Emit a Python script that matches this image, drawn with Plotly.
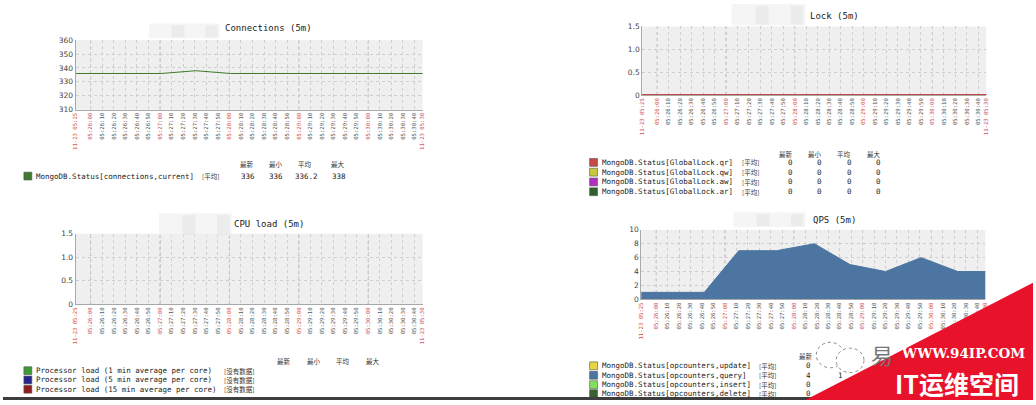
import plotly.graph_objects as go

W, H = 1036, 405
DAY = "2016-11-23 "
MONO = "DejaVu Sans Mono, Noto Sans CJK SC, monospace"
CJK = "Noto Sans CJK SC"
SANS = "DejaVu Sans"

# ---------------- data ----------------
range_start, range_end = "05:25:47", "05:30:47"
tick_times = ["05:25:47", "05:26:00", "05:26:10", "05:26:20", "05:26:30", "05:26:40", "05:26:50",
              "05:27:00", "05:27:10", "05:27:20", "05:27:30", "05:27:40", "05:27:50",
              "05:28:00", "05:28:10", "05:28:20", "05:28:30", "05:28:40", "05:28:50",
              "05:29:00", "05:29:10", "05:29:20", "05:29:30", "05:29:40", "05:29:50",
              "05:30:00", "05:30:10", "05:30:20", "05:30:30", "05:30:40", "05:30:47"]
tick_labels = ["11-23 05:25", "05:26:00", "05:26:10", "05:26:20", "05:26:30", "05:26:40", "05:26:50",
               "05:27:00", "05:27:10", "05:27:20", "05:27:30", "05:27:40", "05:27:50",
               "05:28:00", "05:28:10", "05:28:20", "05:28:30", "05:28:40", "05:28:50",
               "05:29:00", "05:29:10", "05:29:20", "05:29:30", "05:29:40", "05:29:50",
               "05:30:00", "05:30:10", "05:30:20", "05:30:30", "05:30:40", "11-23 05:30"]
red_labels = ["11-23 05:25", "05:26:00", "05:27:00", "05:28:00", "05:29:00", "05:30:00", "11-23 05:30"]
minute_ticks = ["05:26:00", "05:27:00", "05:28:00", "05:29:00", "05:30:00"]

conn_times = ["05:25:31", "05:26:01", "05:26:31", "05:27:01", "05:27:31", "05:28:01",
              "05:28:31", "05:29:01", "05:29:31", "05:30:01", "05:30:31", "05:31:01"]
conn_vals = [336, 336, 336, 336, 338, 336, 336, 336, 336, 336, 336, 336]

lock_times = conn_times
lock_qr = [0] * 12
lock_qw = [0] * 12
lock_aw = [0] * 12
lock_ar = [0] * 12

qps_times = ["05:25:40", "05:26:11", "05:26:42", "05:27:12", "05:27:45", "05:28:18",
             "05:28:49", "05:29:20", "05:29:51", "05:30:23", "05:30:54"]
qps_query = [1, 1, 1, 7, 7, 8, 5, 4, 6, 4, 4]
qps_update = [0] * 11
qps_insert = [0] * 11
qps_delete = [0] * 11

stat_headers = ["最新", "最小", "平均", "最大"]
conn_legend = [("MongoDB.Status[connections,current]", "#3f7a2e", "[平均]", ["336", "336", "336.2", "338"])]
lock_legend = [("MongoDB.Status[GlobalLock.qr]", "#c84848", "[平均]", ["0", "0", "0", "0"]),
               ("MongoDB.Status[GlobalLock.qw]", "#c8c83c", "[平均]", ["0", "0", "0", "0"]),
               ("MongoDB.Status[GlobalLock.aw]", "#b02ec0", "[平均]", ["0", "0", "0", "0"]),
               ("MongoDB.Status[GlobalLock.ar]", "#2f5f2f", "[平均]", ["0", "0", "0", "0"])]
cpu_legend = [("Processor load (1 min average per core)", "#3f9a35", "[没有数据]", []),
              ("Processor load (5 min average per core)", "#25258c", "[没有数据]", []),
              ("Processor load (15 min average per core)", "#8c1f1f", "[没有数据]", [])]
qps_legend = [("MongoDB.Status[opcounters,update]", "#e6d640", "[平均]", ["0"]),
              ("MongoDB.Status[opcounters,query]", "#4c75a1", "[平均]", ["4", "1"]),
              ("MongoDB.Status[opcounters,insert]", "#86e060", "[平均]", ["0"]),
              ("MongoDB.Status[opcounters,delete]", "#3a5f30", "[平均]", ["0"])]

# ---------------- helpers ----------------
def px(x):
    return x / W


def py(y):
    return 1 - y / H


annotations = []
shapes = []


def text(x, y, s, size=7.5, color="#222", anchor="left", family=MONO):
    annotations.append(dict(x=px(x), y=py(y), xref="paper", yref="paper", text=s, showarrow=False,
                            xanchor=anchor, yanchor="middle", borderpad=0,
                            font=dict(size=size, color=color, family=family)))


def rect(x0, y0, x1, y1, fill, line="rgba(0,0,0,0)", lw=0, layer="above"):
    shapes.append(dict(type="rect", xref="paper", yref="paper", x0=px(x0), x1=px(x1), y0=py(y1), y1=py(y0),
                       fillcolor=fill, line=dict(color=line, width=lw), layer=layer))


def dt(t):
    return DAY + t


ticktext = [f'<span style="color:#d25555">{l}</span>' if l in red_labels else l for l in tick_labels]

fig = go.Figure()

panels = [
    # key, x px, y px, yrange, yticks, ylabels
    ("", (73, 422), (37, 108), [310, 360], [310, 320, 330, 340, 350, 360], ["310", "320", "330", "340", "350", "360"]),
    ("2", (643, 989), (23, 93), [0, 1.5], [0, 0.5, 1.0, 1.5], ["0", "0.5", "1.0", "1.5"]),
    ("3", (73, 422), (235, 307), [0, 1.5], [0, 0.5, 1.0, 1.5], ["0", "0.5", "1.0", "1.5"]),
    ("4", (642, 988), (231, 302), [0, 10], [0, 2, 4, 6, 8, 10], ["0", "2", "4", "6", "8", "10"]),
]

for key, (x0, x1), (y0, y1), yr, yt, yl in panels:
    fig.layout["xaxis" + key] = dict(
        domain=[px(x0), px(x1)], anchor="y" + key, type="date",
        range=[dt(range_start), dt(range_end)], tickmode="array",
        tickvals=[dt(t) for t in tick_times], ticktext=ticktext, tickangle=-90,
        tickfont=dict(size=5.6, family="DejaVu Sans Mono", color="#5a5a5a"),
        showgrid=True, gridcolor="#cfcfcf", griddash="dot", gridwidth=1,
        showline=True, linecolor="#a8a8a8", linewidth=1, zeroline=False, ticks="",
        fixedrange=True)
    fig.layout["yaxis" + key] = dict(
        domain=[py(y1), py(y0)], anchor="x" + key, range=yr, tickmode="array",
        tickvals=yt, ticktext=yl, tickfont=dict(size=7.5, family=SANS, color="#444"),
        showgrid=True, gridcolor="#cfcfcf", griddash="dot", gridwidth=1,
        showline=True, linecolor="#a8a8a8", linewidth=1, zeroline=False, ticks="",
        fixedrange=True)
    for t in minute_ticks:
        shapes.append(dict(type="line", xref="x" + key, yref="y" + key, x0=dt(t), x1=dt(t), y0=yr[0], y1=yr[1],
                           line=dict(color="#b0b0b0", width=1, dash="dot"), layer="below"))

# Connections
fig.add_trace(go.Scatter(x=[dt(t) for t in conn_times], y=conn_vals, mode="lines",
                         line=dict(color="#3f7a2e", width=1), xaxis="x", yaxis="y"))
# Lock (drawn so that qr ends on top)
for vals, (_, col, _, _) in list(zip([lock_qr, lock_qw, lock_aw, lock_ar], lock_legend))[::-1]:
    fig.add_trace(go.Scatter(x=[dt(t) for t in lock_times], y=vals, mode="lines",
                             line=dict(color=col, width=2), xaxis="x2", yaxis="y2", cliponaxis=False))
# CPU load (no data)
fig.add_trace(go.Scatter(x=[], y=[], mode="lines", xaxis="x3", yaxis="y3"))
# QPS
for vals, (_, col, _, _) in zip([qps_update, qps_insert, qps_delete], [qps_legend[0], qps_legend[2], qps_legend[3]]):
    fig.add_trace(go.Scatter(x=[dt(t) for t in qps_times], y=vals, mode="lines",
                             line=dict(color=col, width=1), xaxis="x4", yaxis="y4"))
fig.add_trace(go.Scatter(x=[dt(t) for t in qps_times], y=qps_query, mode="lines", fill="tozeroy",
                         fillcolor="#4c75a1", line=dict(color="#4c75a1", width=1), xaxis="x4", yaxis="y4"))

# ---------------- titles (with blurred host names) ----------------
def blur(x0, y0, x1, y1):
    rect(x0, y0, x1, y1, "rgba(238,238,238,0.6)")
    w = (x1 - x0)
    rect(x0 + w * 0.32, y0 + 2, x0 + w * 0.5, y1 - 1, "rgba(225,225,225,0.55)")
    rect(x0 + w * 0.8, y0 + 2, x0 + w * 0.97, y1 - 1, "rgba(228,228,228,0.55)")


blur(147, 20, 218, 35)
blur(733, 0, 807, 22)
blur(157, 214, 230, 237)
blur(735, 213, 807, 228)

text(267, 25, "Connections (5m)", size=9, anchor="center")
text(836, 12, "Lock (5m)", size=9, anchor="center")
text(268, 225, "CPU load (5m)", size=9, anchor="center")
text(836, 221, "QPS (5m)", size=9, anchor="center")

# ---------------- legends ----------------
def legend(rows, y_head, head_x, row_ys, tag_x, val_x, show_heads=4):
    left = tag_x < 500
    for h, hx in zip(stat_headers[:show_heads], head_x[:show_heads]):
        text(hx, y_head, h, size=6.5, color="#333", anchor="center", family=CJK)
    for (name, col, tag, vals), ry in zip(rows, row_ys):
        sx = 21 if left else 590
        rect(sx, ry - 4, sx + 8, ry + 4, col, line="#555", lw=0.6)
        text(sx + 11, ry, name, size=7.5, color="#222")
        text(tag_x, ry, tag, size=6.5, color="#333", family=CJK)
        for v, vx in zip(vals, val_x):
            text(vx, ry, v, size=7.5, color="#222", anchor="center")


legend(conn_legend, 164, [245, 275, 304, 337], [176], 199, [246, 275, 305, 338])
legend(lock_legend, 153, [788, 817, 846, 876], [162, 172, 182, 192], 742, [792, 821, 851, 881])
legend(cpu_legend, 365, [283, 313, 342, 372], [375, 384.5, 394], 221, [])
legend(qps_legend, 360, [808], [370, 379.7, 389.3, 398.5], 759, [810, 842], show_heads=1)

# ---------------- watermark ----------------
shapes.append(dict(type="circle", xref="paper", yref="paper", x0=px(818), x1=px(846), y0=py(372), y1=py(346),
                   fillcolor="white", line=dict(color="#888", width=1, dash="dot"), layer="above"))
shapes.append(dict(type="circle", xref="paper", yref="paper", x0=px(838), x1=px(866), y0=py(377), y1=py(352),
                   fillcolor="white", line=dict(color="#888", width=1, dash="dot"), layer="above"))
rect(0, 402, 1036, 405, "#3e3e3e")
shapes.append(dict(type="path", xref="paper", yref="paper",
                   path=f"M {px(807)} {py(405)} L {px(1036)} {py(285)} L {px(1036)} {py(405)} Z",
                   fillcolor="#e8132b", line=dict(width=0), layer="above"))
text(884, 358, "易", size=22, color="#777", anchor="center", family=CJK)
text(966, 357, "<b>WWW.94IP.COM</b>", size=13.5, color="white", anchor="center", family="DejaVu Serif")
text(960, 388, "<b>IT运维空间</b>", size=25, color="white", anchor="center", family=CJK)

fig.update_layout(
    width=W, height=H, margin=dict(l=0, r=0, t=0, b=0),
    paper_bgcolor="white", plot_bgcolor="#efefef", showlegend=False,
    annotations=annotations, shapes=shapes, hovermode=False,
)

fig.write_html("out.html", config={"displayModeBar": False},
               post_script="document.body.style.margin='0';document.body.style.overflow='hidden';")
